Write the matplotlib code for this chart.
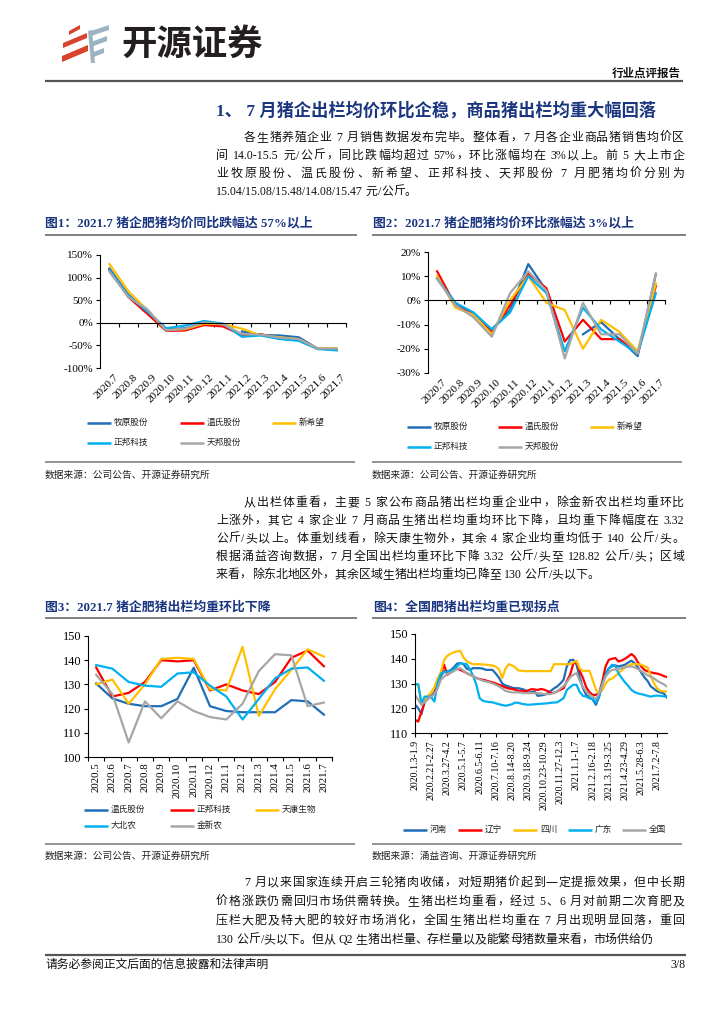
import re
import numpy as np
import matplotlib
matplotlib.use('Agg')
import matplotlib.pyplot as plt
from matplotlib.patches import Polygon

plt.rcParams['font.family'] = ['Liberation Serif', 'Noto Sans CJK SC']
plt.rcParams['axes.unicode_minus'] = False

W, H = 724, 1024
NAVY = '#1B3680'
COLORS = ['#1F6EB8', '#FF0000', '#FFC000', '#00B0F0', '#A6A6A6']

# ---------------- data ----------------
months_a = ['2020.7', '2020.8', '2020.9', '2020.10', '2020.11', '2020.12', '2021.1',
            '2021.2', '2021.3', '2021.4', '2021.5', '2021.6', '2021.7']
companies_a = ['牧原股份', '温氏股份', '新希望', '正邦科技', '天邦股份']

# fig 1: YoY change of hog price (%)
yoy_muyuan = [120, 62, 25, -15, -12, 0, np.nan, -19, -27, -28, -32, -57, -58]
yoy_wens = [118, 57, 20, -18, -17, -5, -8, -27, -25, -35, -38, -57, -60]
yoy_xinxiwang = [130, 70, 28, -16, -14, -2, -3, -13, -28, -32, -36, -57, -56]
yoy_zhengbang = [117, 60, 25, -12, -6, 4, -2, -31, -28, -36, -40, -58, -61]
yoy_tianbang = [113, 57, 30, -17, -13, 1, -3, -25, -26, -33, -36, -57, -57]

# fig 2: MoM change of hog price (%)
mom_muyuan = [9, -1, -6, -12, -4, 15, 4, np.nan, -14, -9, -16, -23, 11]
mom_wens = [12, -2, -6, -13, -2, 11, 5, -17, -8, -16, -16, -22, 6]
mom_xinxiwang = [10, -3, -6, -14, 0, 10, -1, -4, -20, -8, -13, -21, 7]
mom_zhengbang = [9, -1, -5, -12, -5, 10, 3, -21, -3, -12, -17, -22, 3]
mom_tianbang = [9, -2, -7, -15, 3, 12, 4, -24, -1, -14, -14, -22, 11]

# fig 3: average slaughter weight by company (kg)
months_b = ['2020.5', '2020.6', '2020.7', '2020.8', '2020.9', '2020.10', '2020.11',
            '2020.12', '2021.1', '2021.2', '2021.3', '2021.4', '2021.5', '2021.6', '2021.7']
companies_b = ['温氏股份', '正邦科技', '天康生物', '大北农', '金新农']
wt_wens = [130.4, 124.2, 122, 121, 121, 124, 136.9, 121, 119, 118.5, 118.5, 118.5, 123.5, 123, 117.5]
wt_zhengbang = [137, 125, 126.5, 131, 140, 139.5, 140, 127.5, 130, 127.5, 126, 131, 141, 144, 137.5]
wt_tiankang = [130, 132, 122, 130, 140.5, 141, 140.5, 128, 127.5, 145.5, 117, 128, 136, 144.5, 141.5]
wt_dabeinong = [138, 136.5, 131, 129.5, 129, 134.5, 135, 129.5, 125, 115.5, 124, 132.5, 136.5, 137, 131.5]
wt_jinxinnong = [134, 126, 106, 123, 116, 123, 119, 116.5, 115.5, 122, 135.5, 142.5, 142, 121, 122.5]

# fig 4: weekly national slaughter weight (kg)
regions = ['河南', '辽宁', '四川', '广东', '全国']
week_labels = ['2020.1.3-1.9', '2020.2.21-2.27', '2020.3.27-4.2', '2020.5.1-5.7',
               '2020.6.5-6.11', '2020.7.10-7.16', '2020.8.14-8.20', '2020.9.18-9.24',
               '2020.10.23-10.29', '2020.11.27-12.3', '2021.1.1-1.7', '2021.2.16-2.18',
               '2021.3.19-3.25', '2021.4.23-4.29', '2021.5.28-6.3', '2021.7.2-7.8']
wk_henan = [121.5, 120, 117.6, 123, 124.5, 125, 126.5, 129.5, 133, 135, 135, 135.3, 136.5, 138, 138.3,
            137.8, 136, 135.5, 136.2, 136.2, 136.2, 136, 135.5, 135.5, 135.5, 134, 132.3, 130, 129.2,
            128.8, 128.3, 128.1, 128.1, 127.8, 127.4, 126.3, 126.5, 126.8, 125, 125.2, 125.4, 126, 127,
            128, 128.8, 130, 131.5, 137, 139.4, 139.6, 137.6, 132.5, 128, 125.4, 124.3, 123.5, 121.4,
            124.7, 130, 134, 136.2, 137, 137.3, 136.9, 137.2, 137.6, 138.5, 139.2, 138.2, 136.5, 134.5,
            132.5, 131, 128.8, 127.8, 126.8, 126.4, 126, 124.3]
wk_liaoning = [115.3, 114.6, 118.6, 122.5, 123.8, 124.7, 126, 129.5, 134, 137.6, 133.5, 134.5, 135.3,
               136, 135.5, 134.9, 134.2, 133.5, 133, 132.2, 131.8, 131.5, 131.2, 130.8, 130.5, 130,
               129.5, 129, 128.4, 128, 127.8, 127.5, 127, 127, 126.8, 127.2, 127.7, 127.6, 127.4, 127.8,
               127.5, 127, 126.2, 126.2, 126.8, 127.5, 128.1, 131, 133.5, 138, 138.9, 135, 132.2, 128.5,
               126.5, 125.4, 125.4, 126, 131, 137, 139.6, 140, 140.3, 138.9, 139.3, 140, 140.9, 141.9,
               140.8, 138.5, 136.9, 135.5, 134.9, 134.5, 134.2, 134, 133.6, 133, 132.6]
wk_sichuan = [129.7, 129.5, 121.5, 123.5, 125, 126.5, 128.5, 132, 134.5, 139.5, 141.2, 142, 142.6, 143,
              143.2, 140.5, 139, 138.3, 137.8, 137.8, 137.8, 137.7, 137.6, 137.4, 137.3, 136.8, 135.8,
              132.2, 136, 137.8, 137.3, 136.5, 135.3, 135.1, 135, 135, 135, 135, 135, 135, 135, 135, 135,
              137.8, 137.8, 137.8, 137.8, 137.8, 137.8, 138.5, 139.2, 136, 135.1, 135.1, 135.1, 131.5,
              127.5, 126, 127.4, 130, 131.5, 132, 133, 134.2, 135.3, 136.5, 137.2, 137.8, 137.8, 137.8,
              137.6, 137, 136.5, 133, 130, 128, 127, 126.8, 126.8]
wk_guangdong = [129.7, 129.7, 122, 124.7, 124.7, 124.5, 122.7, 130.1, 134, 134.5, 134.9, 135, 135.5,
                136.9, 138.2, 138, 137.8, 135.8, 133, 129.5, 124.1, 123, 122.7, 122.5, 122.4, 122, 121.6,
                121.3, 121, 121.3, 121.6, 122.3, 122.2, 121.8, 121.6, 121.4, 121.5, 121.6, 121.7, 121.8,
                121.9, 122, 122.2, 122.3, 122.4, 123.2, 124.1, 127.4, 128.5, 129.5, 129.5, 126.5, 125,
                124.7, 124, 123.8, 122.4, 125, 130, 133.5, 136, 137.6, 137.2, 134, 132.2, 130.5, 129,
                127.4, 126.5, 126, 125.7, 125.4, 125, 124.7, 125, 125.1, 125, 124.8, 124.7]
wk_national = [125.4, 123.4, 121.4, 122.5, 123.8, 124.7, 125.8, 128, 131.5, 132.8, 133.8, 134.2, 135,
               135.8, 136.2, 135.2, 134.2, 133.5, 133, 132.2, 131.7, 131.1, 130.8, 130.5, 130, 129.5,
               128.8, 128, 127, 126.7, 126.4, 126.4, 126.4, 126.3, 126.1, 126.1, 126.1, 126.1, 126.1,
               126, 125.7, 125.7, 125.7, 126.2, 126.8, 128, 129, 130.5, 132.5, 133.5, 134.2, 131, 128.5,
               126.8, 125.5, 124.7, 123.8, 126, 129.5, 132.8, 134.5, 135.5, 135.7, 135.9, 136.2, 136.5,
               136.8, 136.9, 136.5, 135.9, 135, 134.2, 133.3, 132.8, 132, 131.1, 130.3, 129.7, 128.8]

# ---------------- text ----------------
para1 = ['各生猪养殖企业 7 月销售数据发布完毕。整体看，7 月各企业商品猪销售均价区',
         '间 14.0-15.5 元/公斤，同比跌幅均超过 57%，环比涨幅均在 3%以上。前 5 大上市企',
         '业牧原股份、温氏股份、新希望、正邦科技、天邦股份 7 月肥猪均价分别为',
         '15.04/15.08/15.48/14.08/15.47 元/公斤。']
para2 = ['从出栏体重看，主要 5 家公布商品猪出栏均重企业中，除金新农出栏均重环比',
         '上涨外，其它 4 家企业 7 月商品生猪出栏均重均环比下降，且均重下降幅度在 3.32',
         '公斤/头以上。体重划线看，除天康生物外，其余 4 家企业均重均低于 140 公斤/头。',
         '根据涌益咨询数据，7 月全国出栏均重环比下降 3.32 公斤/头至 128.82 公斤/头；区域',
         '来看，除东北地区外，其余区域生猪出栏均重均已降至 130 公斤/头以下。']
para3 = ['7 月以来国家连续开启三轮猪肉收储，对短期猪价起到一定提振效果，但中长期',
         '价格涨跌仍需回归市场供需转换。生猪出栏均重看，经过 5、6 月对前期二次育肥及',
         '压栏大肥及特大肥的较好市场消化，全国生猪出栏均重在 7 月出现明显回落，重回',
         '130 公斤/头以下。但从 Q2 生猪出栏量、存栏量以及能繁母猪数量来看，市场供给仍']

fig = plt.figure(figsize=(W / 100, H / 100), dpi=100)
ov = fig.add_axes([0, 0, 1, 1])
ov.set_xlim(0, W)
ov.set_ylim(H, 0)
ov.axis('off')
renderer = fig.canvas.get_renderer()


def px_axes(l, t, r, b):
    return fig.add_axes([l / W, 1 - b / H, (r - l) / W, (b - t) / H])


def hline(x0, x1, y, lw=1.4, color='#666666'):
    ov.plot([x0, x1], [y, y], color=color, lw=lw, solid_capstyle='butt')


def body_line(x0, x1, y, s, size=8.6, justify=True):
    toks = re.findall(r'[0-9A-Za-z.%/\-]+|\s|.', s)
    items = []
    for t in toks:
        if t.isspace():
            items.append((None, size * 0.25 * 100 / 72))
        else:
            tt = ov.text(x0, y, t, fontsize=size, va='center', ha='left', color='#111111')
            items.append((tt, tt.get_window_extent(renderer).width))
    total = sum(w for _, w in items)
    gap = (x1 - x0 - total) / (len(items) - 1) if justify else 0
    x = x0
    for tt, w in items:
        if tt is not None:
            tt.set_x(x)
        x += w + gap


def paragraph(lines, y0, step=18, left=216, indent=244, right=684):
    for k, s in enumerate(lines):
        body_line(indent if k == 0 else left, right, y0 + k * step, s,
                  justify=(k < len(lines) - 1))


def legend(entries, x_list, y, size=6.2):
    for (name, col), x in zip(entries, x_list):
        ov.plot([x, x + 24], [y, y], color=col, lw=1.8, solid_capstyle='butt')
        ov.text(x + 27, y, name, fontsize=size, va='center', ha='left', color='#222222')


def style(ax, size):
    for s in ['top', 'right']:
        ax.spines[s].set_visible(False)
    for s in ['left', 'bottom']:
        ax.spines[s].set_linewidth(0.8)
    ax.tick_params(axis='y', direction='out', length=3, width=0.8, labelsize=size, pad=2)
    ax.tick_params(axis='x', which='both', direction='out', width=0.8, labelsize=size)
    ax.set_facecolor('none')


# ---------------- header ----------------
red_bars = [[(69, 31), (80, 25), (80, 29), (69, 35)],
            [(63, 43), (87, 33), (87, 38), (63, 48)],
            [(62, 56), (88, 45), (88, 51), (62, 62)]]
blue_bars = [[(91, 31), (109, 25), (109, 30), (91, 36)],
             [(91, 42), (107, 36), (107, 41), (91, 47)],
             [(91, 53), (104, 48), (104, 53), (91, 58)],
             [(88, 31), (92, 30), (95, 63), (91, 63)]]
for pts in red_bars:
    ov.add_patch(Polygon(pts, closed=True, color='#D8432E', lw=0))
for pts in blue_bars:
    ov.add_patch(Polygon(pts, closed=True, color='#9DB3C2', lw=0))
ov.text(121, 44, '开源证券', fontsize=25.5, fontweight='bold', color='#231F20',
        va='center', ha='left', family='Noto Sans CJK SC')
ov.text(681, 73, '行业点评报告', fontsize=8.3, fontweight='bold', color='#111111',
        va='center', ha='right', family='Noto Sans CJK SC')
hline(45, 683, 80.5, lw=1.6, color='#555555')

ov.text(216, 111, '1、 7 月猪企出栏均价环比企稳，商品猪出栏均重大幅回落', fontsize=12.4,
        fontweight='bold', color=NAVY, va='center', ha='left')
paragraph(para1, 138)

# figure titles row 1
ov.text(45, 223, '图1：2021.7 猪企肥猪均价同比跌幅达 57%以上', fontsize=9.3, fontweight='bold',
        color=NAVY, va='center', ha='left')
ov.text(373, 223, '图2：2021.7 猪企肥猪均价环比涨幅达 3%以上', fontsize=9.3, fontweight='bold',
        color=NAVY, va='center', ha='left')
hline(45, 357, 234.5, color='#808080')
hline(372, 686, 234.5, color='#808080')

# ---------------- chart 1 ----------------
xa = np.arange(len(months_a))
ax1 = px_axes(100, 255, 346, 368)
for vals, col in zip([yoy_muyuan, yoy_wens, yoy_xinxiwang, yoy_zhengbang, yoy_tianbang], COLORS):
    ax1.plot(xa, vals, color=col, lw=1.6)
ax1.set_xlim(-0.5, len(months_a) - 0.5)
ax1.set_ylim(-100, 150)
ax1.set_yticks([150, 100, 50, 0, -50, -100])
ax1.set_yticklabels([f'{v}%' for v in [150, 100, 50, 0, -50, -100]])
ax1.spines['bottom'].set_position(('data', 0))
ax1.set_xticks(xa + 0.5)
ax1.set_xticklabels([])
style(ax1, 8)
ax1.tick_params(axis='x', length=3)
for i, m in enumerate(months_a):
    ax1.text(i + 0.25, -0.04, m, transform=ax1.get_xaxis_transform(), rotation=45,
             ha='right', va='top', rotation_mode='anchor', fontsize=8)
legend(list(zip(companies_a[:3], COLORS[:3])), [87, 180, 272], 423)
legend(list(zip(companies_a[3:], COLORS[3:])), [87, 180], 443)

# ---------------- chart 2 ----------------
ax2 = px_axes(428, 252, 665, 373)
for vals, col in zip([mom_muyuan, mom_wens, mom_xinxiwang, mom_zhengbang, mom_tianbang], COLORS):
    ax2.plot(xa, vals, color=col, lw=1.6)
ax2.set_xlim(-0.5, len(months_a) - 0.5)
ax2.set_ylim(-30, 20)
ax2.set_yticks([20, 10, 0, -10, -20, -30])
ax2.set_yticklabels([f'{v}%' for v in [20, 10, 0, -10, -20, -30]])
ax2.spines['bottom'].set_position(('data', 0))
ax2.set_xticks(xa + 0.5)
ax2.set_xticklabels([])
style(ax2, 8)
ax2.tick_params(axis='x', length=3)
for i, m in enumerate(months_a):
    ax2.text(i + 0.25, -0.04, m, transform=ax2.get_xaxis_transform(), rotation=45,
             ha='right', va='top', rotation_mode='anchor', fontsize=8)
legend(list(zip(companies_a[:3], COLORS[:3])), [407, 498, 590], 427)
legend(list(zip(companies_a[3:], COLORS[3:])), [407, 498], 447)

hline(45, 355, 462, lw=1.2, color='#808080')
hline(372, 682, 462, lw=1.2, color='#808080')
ov.text(45, 475, '数据来源：公司公告、开源证券研究所', fontsize=7, va='center', ha='left', color='#222222')
ov.text(372, 475, '数据来源：公司公告、开源证券研究所', fontsize=7, va='center', ha='left', color='#222222')

paragraph(para2, 503)

# figure titles row 2
ov.text(45, 607, '图3：2021.7 猪企肥猪出栏均重环比下降', fontsize=9.3, fontweight='bold',
        color=NAVY, va='center', ha='left')
ov.text(373, 607, '图4：全国肥猪出栏均重已现拐点', fontsize=9.3, fontweight='bold',
        color=NAVY, va='center', ha='left')
hline(45, 357, 618, color='#808080')
hline(372, 686, 618, color='#808080')

# ---------------- chart 3 ----------------
xb = np.arange(len(months_b))
ax3 = px_axes(88, 636, 332, 757)
for vals, col in zip([wt_wens, wt_zhengbang, wt_tiankang, wt_dabeinong, wt_jinxinnong], COLORS):
    ax3.plot(xb, vals, color=col, lw=1.6)
ax3.set_xlim(-0.5, len(months_b) - 0.5)
ax3.set_ylim(100, 150)
ax3.set_yticks(range(100, 151, 10))
ax3.set_xticks(xb)
ax3.set_xticklabels(months_b, rotation=90)
ax3.set_xticks(np.arange(-0.5, len(months_b), 1), minor=True)
style(ax3, 8.8)
ax3.tick_params(axis='x', which='major', length=0, pad=4, labelsize=7.8)
ax3.tick_params(axis='x', which='minor', length=3)
legend(list(zip(companies_b[:3], COLORS[:3])), [84, 170, 255], 810)
legend(list(zip(companies_b[3:], COLORS[3:])), [84, 170], 826)

# ---------------- chart 4 ----------------
xw = np.arange(len(wk_national))
ax4 = px_axes(415, 634, 667, 733)
for vals, col in zip([wk_henan, wk_liaoning, wk_sichuan, wk_guangdong, wk_national], COLORS):
    ax4.plot(xw, vals, color=col, lw=1.6)
ax4.set_xlim(0, len(wk_national) - 1)
ax4.set_ylim(110, 150)
ax4.set_yticks(range(110, 151, 10))
ax4.set_xticks(np.arange(0, len(week_labels) * 5, 5))
ax4.set_xticklabels(week_labels, rotation=90)
style(ax4, 8.8)
ax4.tick_params(axis='x', length=3, labelsize=7.1, pad=2)
legend(list(zip(regions, COLORS)), [403, 458, 513, 568, 622], 830, size=6.2)

hline(45, 355, 844, lw=1.2, color='#808080')
hline(372, 682, 844, lw=1.2, color='#808080')
ov.text(45, 856, '数据来源：公司公告、开源证券研究所', fontsize=7, va='center', ha='left', color='#222222')
ov.text(372, 856, '数据来源：涌益咨询、开源证券研究所', fontsize=7, va='center', ha='left', color='#222222')

paragraph(para3, 883, step=19)

# ---------------- footer ----------------
hline(45, 686, 955, lw=1.6, color='#555555')
ov.text(45, 965, '请务必参阅正文后面的信息披露和法律声明', fontsize=8.5, va='center', ha='left',
        color='#111111')
ov.text(686, 965, '3/8', fontsize=8.5, va='center', ha='right', color='#111111')

fig.savefig('out.png', dpi=100)
